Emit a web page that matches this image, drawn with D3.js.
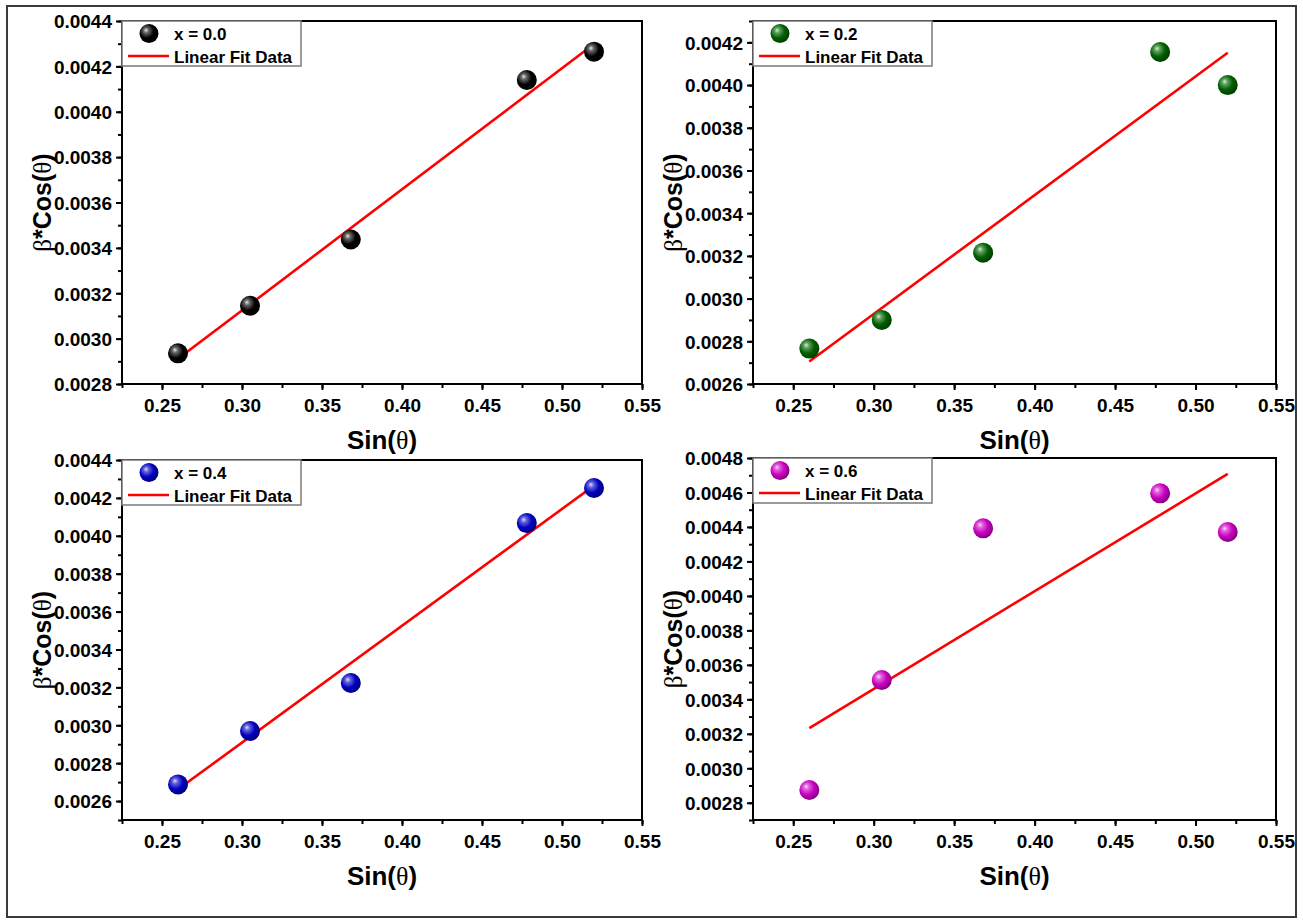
<!DOCTYPE html>
<html>
<head>
<meta charset="utf-8">
<script src="https://cdn.jsdelivr.net/npm/d3@7"></script>
<style>
  html, body { margin: 0; padding: 0; background: #ffffff; }
  svg { display: block; }
</style>
</head>
<body>
<div id="chart"></div>
<script>
// Williamson–Hall data: β·cos(θ) against sin(θ) for four compositions
const sinTheta = [0.26, 0.305, 0.368, 0.478, 0.52];
const betaCos00 = [0.002935, 0.003145, 0.003437, 0.004140, 0.004265];
const betaCos02 = [0.002766, 0.002900, 0.003215, 0.004155, 0.004000];
const betaCos04 = [0.002688, 0.002970, 0.003223, 0.004067, 0.004252];
const betaCos06 = [0.002874, 0.003512, 0.004392, 0.004595, 0.004371];
const seriesLabels = ["x = 0.0", "x = 0.2", "x = 0.4", "x = 0.6"];
const fitLabel = "Linear Fit Data";

// axis ranges and tick labels
const xRange = [0.225, 0.55];
const xTicks = [0.25, 0.30, 0.35, 0.40, 0.45, 0.50, 0.55];
const yRange00 = [0.0028, 0.0044];
const yRange02 = [0.0026, 0.0043];
const yRange04 = [0.0025, 0.0044];
const yRange06 = [0.0027, 0.0048];
const yTicks00 = [0.0028, 0.0030, 0.0032, 0.0034, 0.0036, 0.0038, 0.0040, 0.0042, 0.0044];
const yTicks02 = [0.0026, 0.0028, 0.0030, 0.0032, 0.0034, 0.0036, 0.0038, 0.0040, 0.0042];
const yTicks04 = [0.0026, 0.0028, 0.0030, 0.0032, 0.0034, 0.0036, 0.0038, 0.0040, 0.0042, 0.0044];
const yTicks06 = [0.0028, 0.0030, 0.0032, 0.0034, 0.0036, 0.0038, 0.0040, 0.0042, 0.0044, 0.0046, 0.0048];

const W = 1303, H = 920;
const SANS = "'Liberation Sans', Arial, Helvetica, sans-serif";
const SERIF = "'Liberation Serif', 'Times New Roman', serif";

const panels = [
  { values: betaCos00, label: seriesLabels[0], yRange: yRange00, yTicks: yTicks00,
    base: "#000000", light: "#e6e6e6", box: { x0: 122, x1: 642, y0: 21, y1: 384 } },
  { values: betaCos02, label: seriesLabels[1], yRange: yRange02, yTicks: yTicks02,
    base: "#005f00", light: "#d8f0d8", box: { x0: 753, x1: 1276, y0: 21, y1: 384 } },
  { values: betaCos04, label: seriesLabels[2], yRange: yRange04, yTicks: yTicks04,
    base: "#0000c0", light: "#dcdcff", box: { x0: 122, x1: 642, y0: 460, y1: 820 } },
  { values: betaCos06, label: seriesLabels[3], yRange: yRange06, yTicks: yTicks06,
    base: "#c800c0", light: "#ffd8ff", box: { x0: 753, x1: 1276, y0: 458, y1: 820 } }
];

const svg = d3.select("#chart").append("svg")
  .attr("width", W).attr("height", H)
  .attr("viewBox", `0 0 ${W} ${H}`);

svg.append("rect").attr("width", W).attr("height", H).attr("fill", "#ffffff");

const defs = svg.append("defs");
panels.forEach((p, i) => {
  const g = defs.append("radialGradient")
    .attr("id", "ball" + i)
    .attr("cx", "40%").attr("cy", "40%").attr("r", "62%")
    .attr("fx", "34%").attr("fy", "32%");
  g.append("stop").attr("offset", "0%").attr("stop-color", p.light);
  g.append("stop").attr("offset", "22%").attr("stop-color", d3.interpolateRgb(p.light, p.base)(0.55));
  g.append("stop").attr("offset", "60%").attr("stop-color", p.base);
  g.append("stop").attr("offset", "100%").attr("stop-color", d3.interpolateRgb(p.base, "#000")(0.35));
});

// outer frame of the figure
svg.append("rect")
  .attr("x", 7).attr("y", 6).attr("width", 1289).attr("height", 911)
  .attr("fill", "none").attr("stroke", "#3a3a3a").attr("stroke-width", 2);

// least-squares line through the points
function linearFit(xs, ys) {
  const mx = d3.mean(xs), my = d3.mean(ys);
  let sxy = 0, sxx = 0;
  xs.forEach((x, k) => { sxy += (x - mx) * (ys[k] - my); sxx += (x - mx) * (x - mx); });
  const slope = sxy / sxx;
  return { slope, intercept: my - slope * mx };
}

const fmtY = d3.format(".4f");
const fmtX = d3.format(".2f");

function addTheta(text, parts) {
  parts.forEach(([s, serif]) => {
    text.append("tspan")
      .attr("font-family", serif ? SERIF : SANS)
      .attr("font-weight", serif ? "normal" : "bold")
      .text(s);
  });
}

panels.forEach((p, i) => {
  const b = p.box;
  const x = d3.scaleLinear().domain(xRange).range([b.x0, b.x1]);
  const y = d3.scaleLinear().domain(p.yRange).range([b.y1, b.y0]);
  const g = svg.append("g");

  // minor ticks
  const xMinor = d3.range(0, 14).map(k => +(xRange[0] + k * 0.025).toFixed(4)).filter(v => v <= xRange[1] + 1e-9);
  const yMinor = d3.range(0, 40).map(k => +(p.yRange[0] + k * 0.0001).toFixed(5)).filter(v => v <= p.yRange[1] + 1e-9);

  g.append("g").attr("transform", `translate(0,${b.y1})`)
    .call(d3.axisBottom(x).tickValues(xMinor).tickSize(4).tickSizeOuter(0).tickFormat(""))
    .call(a => a.select(".domain").remove())
    .call(a => a.selectAll("line").attr("stroke", "#000").attr("stroke-width", 2));
  g.append("g").attr("transform", `translate(${b.x0},0)`)
    .call(d3.axisLeft(y).tickValues(yMinor).tickSize(4).tickSizeOuter(0).tickFormat(""))
    .call(a => a.select(".domain").remove())
    .call(a => a.selectAll("line").attr("stroke", "#000").attr("stroke-width", 2));

  // major ticks with labels
  const xa = g.append("g").attr("transform", `translate(0,${b.y1})`)
    .call(d3.axisBottom(x).tickValues(xTicks).tickSize(6).tickSizeOuter(0).tickPadding(9).tickFormat(fmtX));
  const ya = g.append("g").attr("transform", `translate(${b.x0},0)`)
    .call(d3.axisLeft(y).tickValues(p.yTicks).tickSize(6).tickSizeOuter(0).tickPadding(4).tickFormat(fmtY));
  [xa, ya].forEach(a => {
    a.select(".domain").remove();
    a.selectAll("line").attr("stroke", "#000").attr("stroke-width", 2);
    a.selectAll("text").attr("fill", "#000")
      .attr("font-family", SANS).attr("font-weight", "bold").attr("font-size", 19);
  });
  ya.selectAll("text").attr("dy", "0.36em");

  // plot frame
  g.append("rect")
    .attr("x", b.x0).attr("y", b.y0).attr("width", b.x1 - b.x0).attr("height", b.y1 - b.y0)
    .attr("fill", "none").attr("stroke", "#000").attr("stroke-width", 2);

  // fit line
  const fit = linearFit(sinTheta, p.values);
  const xEnds = d3.extent(sinTheta);
  g.append("line")
    .attr("x1", x(xEnds[0])).attr("y1", y(fit.intercept + fit.slope * xEnds[0]))
    .attr("x2", x(xEnds[1])).attr("y2", y(fit.intercept + fit.slope * xEnds[1]))
    .attr("stroke", "#ff0000").attr("stroke-width", 2.6);

  // data spheres
  g.selectAll("circle.pt").data(sinTheta.map((s, k) => [s, p.values[k]]))
    .join("circle").attr("class", "pt")
    .attr("cx", d => x(d[0])).attr("cy", d => y(d[1])).attr("r", 10)
    .attr("fill", `url(#ball${i})`);

  // legend
  const lg = g.append("g").attr("transform", `translate(${b.x0},${b.y0})`);
  lg.append("rect").attr("x", 0).attr("y", 0).attr("width", 179).attr("height", 45)
    .attr("fill", "#ffffff").attr("stroke", "#7a7a7a").attr("stroke-width", 1.5);
  lg.append("circle").attr("cx", 27).attr("cy", 12.5).attr("r", 9.5).attr("fill", `url(#ball${i})`);
  lg.append("text").attr("x", 52).attr("y", 18.5).text(p.label)
    .attr("font-family", SANS).attr("font-weight", "bold").attr("font-size", 17).attr("fill", "#000");
  lg.append("line").attr("x1", 6).attr("x2", 47).attr("y1", 35).attr("y2", 35)
    .attr("stroke", "#ff0000").attr("stroke-width", 2.6);
  lg.append("text").attr("x", 52).attr("y", 41.5).text(fitLabel)
    .attr("font-family", SANS).attr("font-weight", "bold").attr("font-size", 17).attr("fill", "#000");

  // axis titles
  const xt = g.append("text")
    .attr("x", (b.x0 + b.x1) / 2).attr("y", b.y1 + 65)
    .attr("text-anchor", "middle").attr("font-size", 26).attr("fill", "#000");
  addTheta(xt, [["Sin(", false], ["θ", true], [")", false]]);

  const yt = g.append("text")
    .attr("transform", `translate(${b.x0 - 71},${(b.y0 + b.y1) / 2}) rotate(-90)`)
    .attr("text-anchor", "middle").attr("font-size", 25).attr("fill", "#000");
  addTheta(yt, [["β", true], ["*Cos(", false], ["θ", true], [")", false]]);
});
</script>
</body>
</html>
